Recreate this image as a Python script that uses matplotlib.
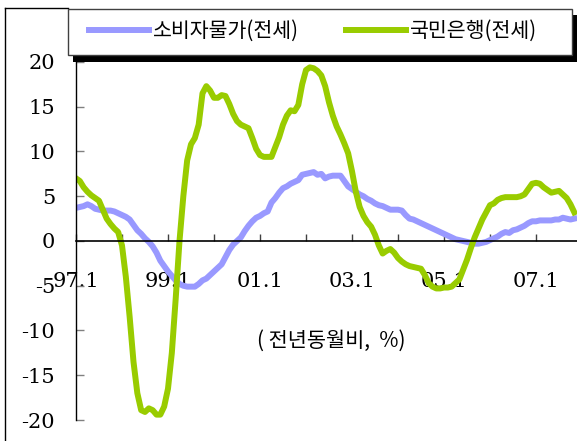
import numpy as np
import matplotlib
matplotlib.use('Agg')
import matplotlib.pyplot as plt
from matplotlib.patches import Rectangle
from matplotlib.lines import Line2D

# 데이터 (1997.1 ~ 2007.11, 월별, 전년동월비 %)
labels = ['소비자물가(전세)', '국민은행(전세)']
cpi_jeonse = [
    3.7, 3.8, 3.9, 4.1, 3.9, 3.6, 3.5, 3.4, 3.4, 3.4, 3.3, 3.1,
    2.9, 2.7, 2.4, 1.8, 1.2, 0.8, 0.3, -0.1, -0.6, -1.3, -2.2, -2.8,
    -3.4, -3.9, -4.4, -4.8, -5.0, -5.1, -5.1, -5.1, -4.8, -4.4, -4.2, -3.8,
    -3.4, -3.0, -2.6, -1.8, -1.0, -0.4, 0.0, 0.4, 1.1, 1.7, 2.2, 2.6,
    2.8, 3.1, 3.3, 4.3, 4.8, 5.4, 5.9, 6.1, 6.4, 6.6, 6.8, 7.4,
    7.5, 7.6, 7.7, 7.4, 7.5, 7.0, 7.2, 7.3, 7.3, 7.3, 6.7, 6.1,
    5.8, 5.5, 5.2, 5.0, 4.7, 4.5, 4.2, 4.0, 3.9, 3.7, 3.5, 3.5,
    3.5, 3.4, 2.9, 2.5, 2.4, 2.2, 2.0, 1.8, 1.6, 1.4, 1.2, 1.0,
    0.8, 0.6, 0.4, 0.2, 0.1, 0.0, -0.1, -0.2, -0.3, -0.3, -0.2, -0.1,
    0.1, 0.3, 0.5, 0.8, 1.0, 0.9, 1.2, 1.3, 1.5, 1.7, 2.0, 2.2,
    2.2, 2.3, 2.3, 2.3, 2.3, 2.4, 2.4, 2.6, 2.5, 2.4, 2.5,
]
kb_jeonse = [
    7.0, 6.7, 6.0, 5.5, 5.1, 4.8, 4.5, 3.5, 2.5, 1.9, 1.4, 1.0,
    -0.5, -4.0, -8.5, -13.5, -17.0, -18.9, -19.1, -18.7, -18.9, -19.4, -19.4, -18.5,
    -16.5, -12.5, -6.5, 0.0, 5.0, 9.0, 10.8, 11.5, 13.0, 16.5, 17.3, 16.8,
    16.0, 16.0, 16.3, 16.2, 15.3, 14.2, 13.4, 13.0, 12.8, 12.6, 11.5, 10.3,
    9.6, 9.4, 9.4, 9.4, 10.5, 11.6, 13.0, 14.0, 14.6, 14.5, 15.2, 17.5,
    19.1, 19.4, 19.3, 19.0, 18.5, 17.3, 15.5, 14.0, 12.8, 11.9, 10.9, 9.8,
    7.8, 5.5, 3.8, 2.8, 2.1, 1.6, 0.7, -0.5, -1.4, -1.1, -0.9, -1.3,
    -1.9, -2.3, -2.6, -2.8, -2.9, -3.0, -3.1, -3.8, -4.7, -5.1, -5.3, -5.3,
    -5.2, -5.2, -5.1, -4.7, -4.3, -3.2, -2.1, -0.8, 0.4, 1.4, 2.4, 3.2,
    4.0, 4.2, 4.6, 4.8, 4.9, 4.9, 4.9, 4.9, 5.0, 5.2, 5.8, 6.4,
    6.5, 6.4, 6.0, 5.7, 5.4, 5.5, 5.6, 5.2, 4.8, 4.1, 3.2,
]
year_ticks = np.arange(0, 121, 12)
year_labels = ['97.1', '', '99.1', '', '01.1', '', '03.1', '', '05.1', '', '07.1']
y_ticks = [-20, -15, -10, -5, 0, 5, 10, 15, 20]

plt.rcParams['font.family'] = ['DejaVu Serif']
plt.rcParams['axes.unicode_minus'] = False
kr = ['Noto Sans CJK KR', 'DejaVu Sans']

W, H = 577, 441
fig = plt.figure(figsize=(W / 100, H / 100), dpi=100)
ax = fig.add_axes([76 / W, 1 - 420 / H, 1 - 76 / W, (420 - 62) / H])

months = np.arange(len(cpi_jeonse))
ax.plot(months, cpi_jeonse, color='#9999ff', lw=4.3, label=labels[0],
        solid_joinstyle='round')
ax.plot(months, kb_jeonse, color='#99cc00', lw=4.3, label=labels[1],
        solid_joinstyle='round')

ax.set_xlim(0, 130.7)
ax.set_ylim(-20, 20)

for s in ['top', 'right']:
    ax.spines[s].set_visible(False)
ax.spines['left'].set_color('black')
ax.spines['left'].set_linewidth(1.0)
ax.spines['bottom'].set_position(('data', 0))
ax.spines['bottom'].set_color('black')
ax.spines['bottom'].set_linewidth(1.2)

ax.set_yticks(y_ticks)
ax.set_yticklabels([str(v) for v in y_ticks])
ax.tick_params(axis='y', direction='in', length=6, width=1, color='#808080',
               pad=15, labelsize=15)
ax.set_xticks(year_ticks)
ax.set_xticklabels(year_labels)
ax.tick_params(axis='x', direction='in', length=5, width=1, color='#404040',
               pad=22, labelsize=15)

# 범례 상자 + 그림자
fig.add_artist(Rectangle((73 / W, 1 - 62 / H), (577 - 73) / W, (62 - 15) / H,
                         transform=fig.transFigure, facecolor='black',
                         edgecolor='none', zorder=5))
fig.add_artist(Rectangle((68 / W, 1 - 55 / H), (572 - 68) / W, (55 - 9) / H,
                         transform=fig.transFigure, facecolor='white',
                         edgecolor='#404040', lw=1, zorder=6))
# 바깥 테두리
fig.add_artist(Line2D([5 / W, 5 / W], [0, 1 - 8 / H], transform=fig.transFigure,
                      color='black', lw=1))
fig.add_artist(Line2D([5 / W, 68 / W], [1 - 8 / H, 1 - 8 / H],
                      transform=fig.transFigure, color='black', lw=1))

h, l = ax.get_legend_handles_labels()
leg = fig.legend(h, l, ncol=2, loc='center left',
                 bbox_to_anchor=(89 / W, 1 - 31 / H), frameon=False,
                 borderpad=0, borderaxespad=0, handlelength=2.9,
                 handletextpad=0.2, columnspacing=2.3,
                 prop={'family': kr, 'size': 14.8})
leg.set_zorder(7)

fig.text(331 / W, 1 - 341 / H, '( 전년동월비,  %)', ha='center', va='center',
         family=kr, fontsize=15)

fig.savefig('out.png', dpi=100)
